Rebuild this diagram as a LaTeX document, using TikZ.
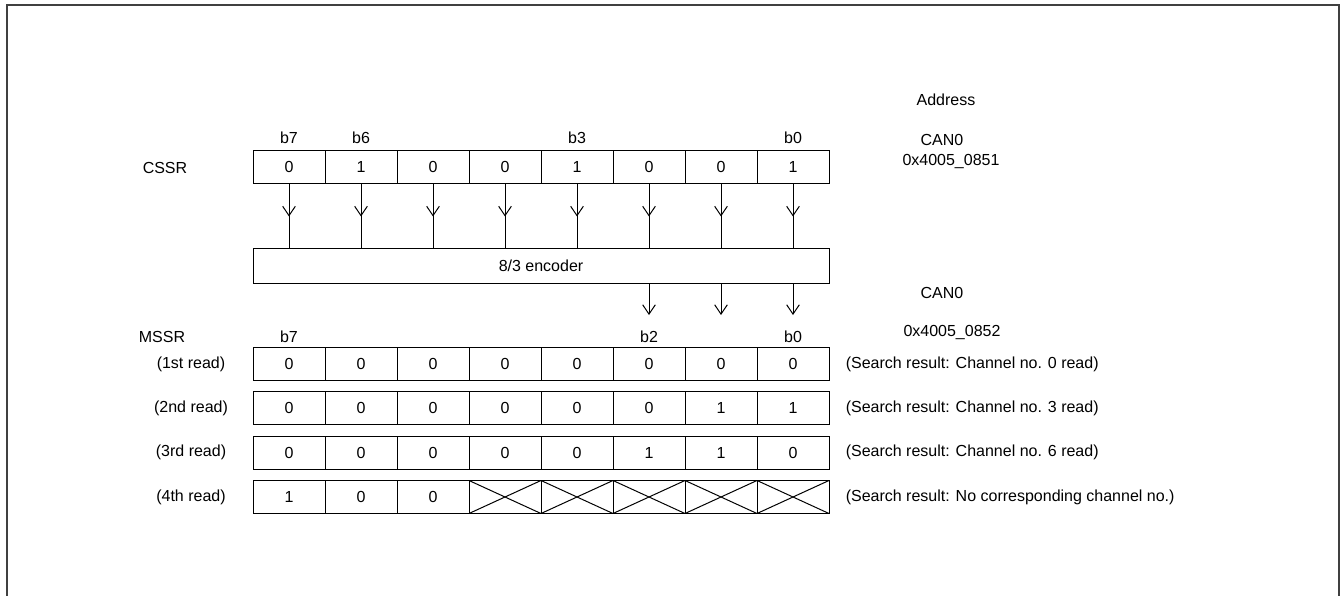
\documentclass[tikz,border=0pt]{standalone}
\usepackage{fontspec}
\setmainfont{Liberation Sans}
\usetikzlibrary{arrows.meta,positioning}

\begin{document}
\begin{tikzpicture}[
    x=0.75pt, y=-0.75pt,
    font=\fontsize{12}{14}\selectfont,
    cell/.style={rectangle,draw,line width=0.75pt,minimum width=54pt,minimum height=24.75pt,inner sep=0pt},
    xcell/.style={cell,path picture={\draw[line width=0.75pt] (path picture bounding box.north west)--(path picture bounding box.south east) (path picture bounding box.north east)--(path picture bounding box.south west);}},
    encbox/.style={rectangle,draw,line width=0.75pt,minimum width=432pt,minimum height=26.25pt,inner sep=0pt},
    ml/.style={black,line width=0.75pt},
    arr/.style={ml,-{Straight Barb[length=7pt,width=9.5pt]}},
    lbl/.style={inner sep=0pt},
    frame/.style={black!75,line width=1.5pt}
]
\useasboundingbox (0,0) rectangle (1340,596);
% Outer frame, open at the bottom
\draw[frame] (6.5,610) -- (6.5,4.5) -- (1339,4.5) -- (1339,610);

% CSSR register
\node[lbl] (cssr) at (165,168) {CSSR};
\foreach \v [count=\c from 0] in {0,1,0,0,1,0,0,1} {
    \node[cell] (cs\c) at (289+72*\c,166.5) {\v};
}
\foreach \c/\b in {0/7,1/6,4/3,7/0} {
    \node[lbl] (csb\b) at (cs\c |- 0,138) {b\b};
}

% Encoder
\node[encbox] (enc) at (541,266) {8/3 encoder};

% Bit lines into the encoder
\foreach \c in {0,...,7} {
    \draw[ml] (cs\c.south) -- (cs\c.south |- enc.north);
    \path (cs\c.south) ++(0,33) coordinate (ct\c);
    \draw[arr] (cs\c.south) -- (ct\c);
}
% Encoder outputs
\foreach \c in {5,6,7} {
    \coordinate (eo\c) at (cs\c.south |- enc.south);
    \path (eo\c) ++(0,31) coordinate (et\c);
    \draw[arr] (eo\c) -- (et\c);
}

% Addresses
\node[lbl] (addr) at (946,100) {Address};
\node[lbl] (can1) at (942,140) {CAN0};
\node[lbl] (adr1) at (951,162) {0x4005\_0851};
\node[lbl] (can2) at (942,293) {CAN0};
\node[lbl] (adr2) at (952,333) {0x4005\_0852};

% MSSR register, four reads
\node[lbl] (mssr) at (162,337) {MSSR};
\foreach \r/\y/\vals/\rd/\res in {
    1/364/{0,0,0,0,0,0,0,0}/1st/{Channel no. 0 read},
    2/408.3/{0,0,0,0,0,0,1,1}/2nd/{Channel no. 3 read},
    3/452.6/{0,0,0,0,0,1,1,0}/3rd/{Channel no. 6 read},
    4/497/{1,0,0,-,-,-,-,-}/4th/{No corresponding channel no.}} {
    \foreach \v [count=\c from 0] in \vals {
        \pgfmathtruncatemacro{\isx}{(\r==4)&&(\c>2) ? 1 : 0}
        \ifnum\isx=1
            \node[xcell] (m\r\c) at (289+72*\c,\y) {};
        \else
            \node[cell]  (m\r\c) at (289+72*\c,\y) {\v};
        \fi
    }
    \node[lbl] (rd\r) at (191,\y) {(\rd\ read)};
    \node[lbl,right=12pt of m\r7] (res\r) {(Search result: \res)};
}
\foreach \c/\b in {0/7,5/2,7/0} {
    \node[lbl] (msb\b) at (m1\c |- 0,337) {b\b};
}
\end{tikzpicture}
\end{document}
